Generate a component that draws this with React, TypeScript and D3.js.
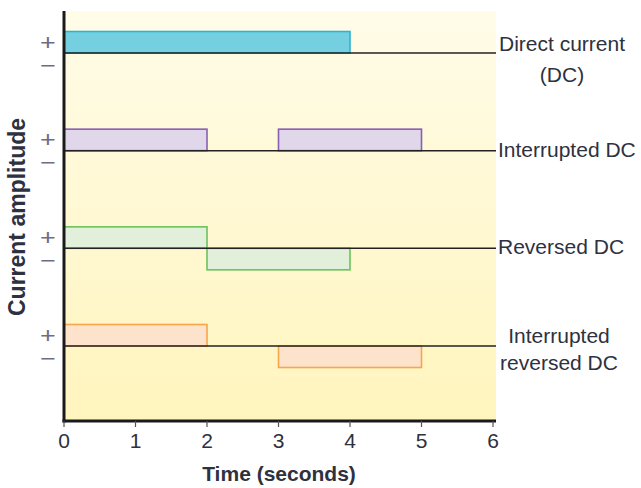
import React from "react";
import * as d3 from "d3";

const rowNames = ["Direct current", "Interrupted DC", "Reversed DC", "Interrupted reversed DC"];
const rowLabelLines = [["Direct current", "(DC)"], ["Interrupted DC"], ["Reversed DC"], ["Interrupted", "reversed DC"]];
const rowCentered = [true, false, false, true];
// segments: [start (s), end (s), sign]
const dcSegments = [[0, 4, 1]];
const interruptedSegments = [[0, 2, 1], [3, 5, 1]];
const reversedSegments = [[0, 2, 1], [2, 4, -1]];
const interruptedReversedSegments = [[0, 2, 1], [3, 5, -1]];
const rowSegments = [dcSegments, interruptedSegments, reversedSegments, interruptedReversedSegments];
const rowFills = ["#74cfe0", "#e0d7ea", "#e2efdb", "#fde3cb"];
const rowStrokes = ["#2bb5d2", "#8a5fb2", "#6cc25c", "#f8a64c"];
const xTicks = [0, 1, 2, 3, 4, 5, 6];

const W = 641, H = 488;
const left = 64, right = 493, top = 11, bottom = 421;

export default function App() {
  const x = d3.scaleLinear().domain([0, 6]).range([left, right]);
  const yRow = d3.scaleLinear().domain([0, 3]).range([53, 346]);
  const amp = d3.scaleLinear().domain([-1, 1]).range([21.5, -21.5]);
  const bgRight = 496;
  const font = "Liberation Sans, Arial, sans-serif";
  const textColor = "#2e3140";
  return (
    <svg width={W} height={H} style={{ position: "absolute", left: 0, top: 0 }} fontFamily={font}>
      <defs>
        <linearGradient id="bg" x1="0" y1="0" x2="0" y2="1">
          <stop offset="0" stopColor="#fffce8" />
          <stop offset="1" stopColor="#fff5be" />
        </linearGradient>
      </defs>
      <rect x={0} y={0} width={W} height={H} fill="#ffffff" />
      <rect x={left} y={top} width={bgRight - left} height={bottom - top} fill="url(#bg)" />
      {rowSegments.map((segs, i) => (
        <g key={rowNames[i]}>
          {segs.map(([s, e, v], j) => {
            const y0 = yRow(i);
            const y1 = y0 + amp(v);
            return (
              <rect
                key={j}
                x={x(s)}
                y={Math.min(y0, y1)}
                width={x(e) - x(s)}
                height={Math.abs(y1 - y0)}
                fill={rowFills[i]}
                stroke={rowStrokes[i]}
                strokeWidth={1.6}
              />
            );
          })}
        </g>
      ))}
      {rowNames.map((n, i) => (
        <g key={"b" + n}>
          <line x1={left} x2={bgRight} y1={yRow(i)} y2={yRow(i)} stroke="#222" strokeWidth={1.5} />
          <text transform={`translate(48,${yRow(i) - 11}) scale(1.35,1.1)`} fontSize={20} fill="#716c86" textAnchor="middle" dominantBaseline="central">+</text>
          <text transform={`translate(48,${yRow(i) + 12}) scale(1.35,1.1)`} fontSize={20} fill="#716c86" textAnchor="middle" dominantBaseline="central">−</text>
          {rowLabelLines[i].length === 1 ? (
            <text x={498} y={yRow(i) + 6} fontSize={21} fill={textColor}>{rowLabelLines[i][0]}</text>
          ) : (
            rowLabelLines[i].map((t, k) => (
              <text
                key={k}
                x={rowCentered[i] ? (i === 0 ? 562 : 559) : 498}
                y={i === 0 ? yRow(i) - 2 + k * 31 : yRow(i) - 3 + k * 27}
                fontSize={21}
                fill={textColor}
                textAnchor="middle"
              >
                {t}
              </text>
            ))
          )}
        </g>
      ))}
      <line x1={left} x2={left} y1={top} y2={bottom + 1.5} stroke="#1a1a1a" strokeWidth={3} />
      <line x1={left - 1.5} x2={bgRight} y1={bottom} y2={bottom} stroke="#1a1a1a" strokeWidth={3} />
      {xTicks.map((t) => (
        <g key={t}>
          <line x1={x(t)} x2={x(t)} y1={bottom} y2={bottom + 6} stroke="#555" strokeWidth={1.2} />
          <text x={x(t)} y={448} fontSize={21} fill={textColor} textAnchor="middle">{t}</text>
        </g>
      ))}
      <text x={279} y={481} fontSize={21} fontWeight="bold" fill={textColor} textAnchor="middle">Time (seconds)</text>
      <text
        transform={`translate(25,217) rotate(-90)`}
        fontSize={23}
        fontWeight="bold"
        fill={textColor}
        textAnchor="middle"
      >
        Current amplitude
      </text>
    </svg>
  );
}
